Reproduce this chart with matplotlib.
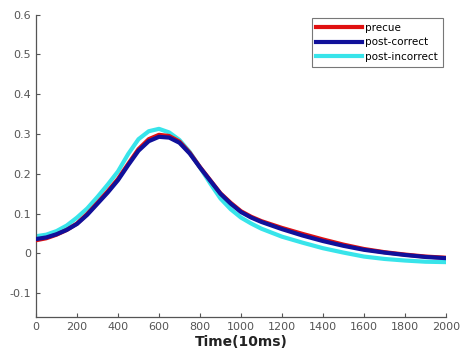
import matplotlib
matplotlib.use('Agg')
import matplotlib.pyplot as plt

# time axis (units of 10 ms)
t = [0, 50, 100, 150, 200, 250, 300, 350, 400, 450, 500, 550, 600, 650, 700,
     750, 800, 850, 900, 950, 1000, 1050, 1100, 1200, 1300, 1400, 1500, 1600,
     1700, 1800, 1900, 2000]

precue = [0.033, 0.038, 0.047, 0.059, 0.075, 0.099, 0.127, 0.156, 0.187, 0.225,
          0.262, 0.287, 0.298, 0.295, 0.281, 0.253, 0.217, 0.184, 0.151, 0.127,
          0.106, 0.092, 0.081, 0.064, 0.049, 0.035, 0.022, 0.011, 0.003,
          -0.003, -0.008, -0.011]
post_correct = [0.036, 0.040, 0.048, 0.059, 0.074, 0.097, 0.125, 0.153, 0.184, 0.222,
                0.258, 0.282, 0.293, 0.291, 0.278, 0.251, 0.216, 0.183, 0.150, 0.125,
                0.104, 0.090, 0.079, 0.061, 0.045, 0.031, 0.019, 0.009, 0.002,
                -0.004, -0.009, -0.012]
post_incorrect = [0.043, 0.047, 0.056, 0.070, 0.090, 0.113, 0.142, 0.173, 0.206, 0.250,
                  0.287, 0.307, 0.313, 0.304, 0.285, 0.255, 0.216, 0.176, 0.138, 0.111,
                  0.090, 0.075, 0.062, 0.042, 0.027, 0.013, 0.002, -0.008, -0.014,
                  -0.018, -0.021, -0.022]

fig = plt.figure(figsize=(4.62, 3.54), dpi=100)
ax = fig.add_axes([0.078, 0.1045, 0.887, 0.854])

l3, = ax.plot(t, post_incorrect, color='#38e4ea', lw=3.0, zorder=2)
l1, = ax.plot(t, precue, color='#e01010', lw=3.0, zorder=3)
l2, = ax.plot(t, post_correct, color='#10109a', lw=3.0, zorder=4)

ax.set_xlim(0, 2000)
ax.set_ylim(-0.16, 0.6)
ax.set_xticks(range(0, 2001, 200))
ax.set_yticks([-0.1, 0, 0.1, 0.2, 0.3, 0.4, 0.5, 0.6])
ax.set_yticklabels(['-0.1', '0', '0.1', '0.2', '0.3', '0.4', '0.5', '0.6'])
ax.tick_params(direction='in', length=3, labelsize=8, colors='#555555', width=0.8)
for s in ['top', 'right']:
    ax.spines[s].set_visible(False)
for s in ['left', 'bottom']:
    ax.spines[s].set_color('#555555')
    ax.spines[s].set_linewidth(0.9)

ax.set_xlabel('Time(10ms)', fontsize=10, fontweight='bold', color='#222222', labelpad=2)

leg = ax.legend([l1, l2, l3], ['precue', 'post-correct', 'post-incorrect'],
                loc='upper right', fontsize=7.5, fancybox=False, frameon=True,
                edgecolor='#555555', handlelength=4.4, handletextpad=0.3,
                labelspacing=0.45, borderpad=0.45, borderaxespad=0.3)
leg.get_frame().set_linewidth(0.8)

fig.savefig('out.png', dpi=100)
